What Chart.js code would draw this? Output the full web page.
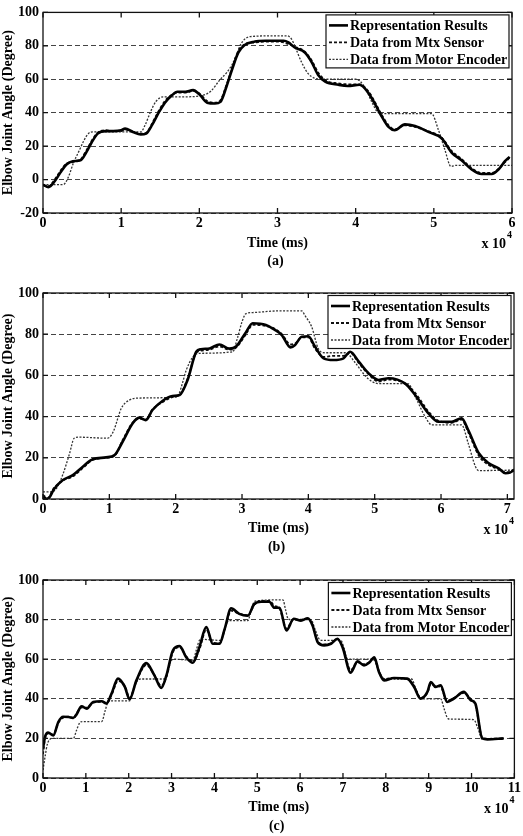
<!DOCTYPE html>
<html>
<head>
<meta charset="utf-8">
<script src="https://cdn.jsdelivr.net/npm/chart.js@4.4.1/dist/chart.umd.min.js"></script>
<style>
    html, body { margin: 0; padding: 0; background: #fff; }
    #wrap { position: relative; width: 523px; height: 836px; }
    #wrap canvas { position: absolute; left: 0; }
</style>
</head>
<body>
<div id="wrap">
    <canvas id="chart-a" width="523" height="272" style="top:0px"></canvas>
    <canvas id="chart-b" width="523" height="284" style="top:272px"></canvas>
    <canvas id="chart-c" width="523" height="280" style="top:556px"></canvas>
</div>
<script>
// series names (legend order)
var seriesNames = ['Representation Results', 'Data from Mtx Sensor', 'Data from Motor Encoder'];

// time in units of 10^4 ms
// (a)
var timeA = [0, 0.07, 0.15, 0.22, 0.3, 0.38, 0.48, 0.55, 0.62, 0.7, 0.8, 0.9, 1.0, 1.05, 1.15, 1.25, 1.32, 1.4, 1.48, 1.56, 1.64, 1.72, 1.82, 1.92, 2.0, 2.1, 2.2, 2.27, 2.35, 2.42, 2.5, 2.58, 2.7, 2.85, 3.0, 3.08, 3.14, 3.22, 3.35, 3.44, 3.52, 3.61, 3.78, 3.9, 4.05, 4.16, 4.25, 4.33, 4.42, 4.5, 4.63, 4.76, 4.93, 5.1, 5.23, 5.35, 5.48, 5.61, 5.74, 5.83, 5.91, 5.97];
var repA = [-3, -4.5, -1, 4, 9, 11, 11.5, 16, 22, 27.5, 29, 29, 29.5, 30.5, 28.5, 27, 27.5, 33, 40, 46, 50, 52.5, 52.5, 53.5, 51, 46, 45.5, 46.5, 56, 66, 76, 80.5, 82.5, 83, 83, 83, 82, 79, 76, 70, 62.5, 58.6, 56.7, 56, 56.7, 52, 45, 38, 31.5, 29.5, 33, 32, 28.5, 24.7, 16, 11.7, 6.2, 3.3, 3.3, 6.2, 11, 13.6];
var mtxA = [-3.5, -4, 0, 5, 9.5, 10.5, 12, 17, 23, 28, 29.5, 29, 29, 30, 28.5, 27.5, 28, 34, 41, 47, 50.5, 52, 52, 53, 51.5, 47, 46, 47.5, 57, 67, 77, 81, 82, 82.5, 82.5, 82, 81, 79.5, 76.5, 71, 64, 59.5, 57.5, 57, 57, 53, 46, 39, 32.5, 30, 32.5, 31.5, 29, 25, 17, 12.5, 7, 4, 4, 6.5, 10.5, 13];
var encTimeA = [0, 0.26, 0.32, 0.39, 0.46, 0.52, 0.58, 0.64, 1.0, 1.25, 1.31, 1.38, 1.45, 1.54, 1.8, 2.05, 2.15, 2.26, 2.35, 2.41, 2.47, 2.52, 2.58, 2.65, 3.0, 3.12, 3.18, 3.22, 3.31, 3.39, 3.48, 3.6, 4.01, 4.12, 4.2, 4.29, 4.35, 4.97, 5.06, 5.14, 5.22, 5.28, 6.0];
var encA = [-3, -3, 1, 10, 17, 23, 27.5, 28.5, 28.5, 28.5, 33, 41, 47, 49.5, 49.5, 50.5, 53, 59.5, 64, 68, 74, 80, 84, 85.5, 86, 86, 84, 80, 70, 63.5, 60.6, 60, 60, 55, 47, 40, 39.5, 39.5, 29.5, 18, 7.8, 8.5, 8.5];

// (b)
var timeB = [0, 0.07, 0.17, 0.3, 0.45, 0.6, 0.75, 0.95, 1.08, 1.2, 1.35, 1.45, 1.55, 1.65, 1.8, 1.95, 2.06, 2.18, 2.31, 2.38, 2.51, 2.66, 2.81, 2.91, 3.06, 3.16, 3.36, 3.5, 3.6, 3.73, 3.8, 3.9, 4.0, 4.1, 4.23, 4.38, 4.53, 4.63, 4.76, 4.91, 5.06, 5.21, 5.46, 5.61, 5.81, 5.96, 6.16, 6.31, 6.41, 6.57, 6.72, 6.87, 6.97, 7.04, 7.1];
var repB = [1, 0, 5, 9.2, 11.6, 15.7, 19.3, 20.2, 21.4, 27.8, 36.7, 39.5, 38.3, 43.2, 47.6, 50, 50.5, 57.8, 71.5, 72.7, 73.1, 75, 73, 74, 81, 85.3, 84.5, 82, 79.6, 73.6, 74.8, 78.8, 79, 74, 68.3, 67.5, 68.3, 71.5, 66.7, 61, 57.8, 58.6, 56, 50.5, 41.6, 37.5, 37.5, 39.2, 33.5, 22.2, 17.3, 14.9, 12.5, 12.8, 14];
var mtxB = [2, 0.5, 5.5, 9, 11, 15, 19, 20, 21, 28.5, 37, 39, 38.5, 43.5, 47, 49.5, 50.5, 58.5, 71, 72, 72.5, 74, 72.5, 73.5, 80, 84.5, 84, 82.5, 80, 75, 75.5, 78.5, 78.5, 73, 69, 69.5, 69.5, 71, 66, 60.5, 57, 58, 56, 51.5, 42.5, 38, 37, 38.5, 32.5, 21, 16.5, 14.5, 13, 13.2, 14.5];
var encTimeB = [0, 0.12, 0.2, 0.3, 0.4, 0.47, 0.55, 0.97, 1.02, 1.07, 1.18, 1.3, 1.45, 2.0, 2.05, 2.1, 2.16, 2.26, 2.36, 2.86, 2.93, 3.0, 3.06, 3.16, 3.56, 3.9, 3.95, 4.05, 4.15, 4.25, 4.56, 4.71, 4.86, 4.96, 5.06, 5.5, 5.61, 5.76, 5.86, 6.31, 6.41, 6.52, 6.57, 7.1];
var encB = [3.5, 3.5, 5, 12, 22, 29.5, 30, 29.5, 30.5, 33.5, 44, 48, 49, 49.5, 51, 56, 62.6, 69, 70.7, 71.5, 78, 86, 90, 90.5, 91.3, 91.3, 89, 83.6, 73, 71, 71, 66, 59.7, 57, 56, 56, 49.7, 40, 36, 36, 27, 15.7, 13.8, 14];

// (c)
var timeC = [0, 0.05, 0.12, 0.24, 0.36, 0.47, 0.6, 0.71, 0.78, 0.9, 1.02, 1.17, 1.37, 1.48, 1.6, 1.75, 1.91, 2.02, 2.18, 2.41, 2.6, 2.76, 2.88, 3.03, 3.19, 3.34, 3.5, 3.65, 3.81, 3.96, 4.12, 4.24, 4.39, 4.58, 4.78, 4.93, 5.09, 5.28, 5.4, 5.52, 5.68, 5.85, 6.02, 6.18, 6.29, 6.41, 6.56, 6.72, 6.87, 6.99, 7.18, 7.34, 7.49, 7.61, 7.73, 7.84, 7.96, 8.19, 8.5, 8.66, 8.81, 8.97, 9.05, 9.16, 9.28, 9.43, 9.59, 9.82, 9.98, 10.09, 10.25, 10.37, 10.75];
var repC = [15, 21, 23, 21.5, 28.4, 30.9, 30.8, 30.4, 32, 36.2, 35, 38.4, 38.8, 37.6, 42.6, 50.2, 46, 39.8, 49.3, 58, 51.8, 45.5, 51.8, 64.4, 66.6, 61, 58.2, 66.1, 76.2, 67.8, 67.8, 75.3, 85.7, 82.9, 82, 87.9, 89, 89, 86, 86, 74.5, 80.4, 79.5, 80.7, 77, 68.6, 67, 67.8, 70.3, 66.1, 53.2, 58.9, 56.9, 58.2, 61, 53.5, 49.3, 50.5, 50.2, 46, 40.1, 43.5, 48.5, 46, 46.8, 38.4, 40.1, 43.5, 39.3, 37.6, 20, 19.5, 20];
var mtxC = [12, 20, 22.5, 22, 28, 30.5, 31, 30, 32.5, 35.5, 35.5, 38, 38.5, 38, 42, 49, 46.5, 40.5, 49, 57, 52, 46.5, 51, 63.5, 66, 61.5, 59, 65, 75, 68.5, 68, 75, 84.5, 83, 82, 87.5, 89.5, 89.5, 87, 85.5, 75.5, 80, 80, 80.5, 77.5, 69, 67.5, 68, 70, 66.5, 54.5, 58.5, 57.5, 58.5, 60.5, 54, 50, 50.5, 50, 46.5, 40.5, 43, 47.5, 46.5, 46, 39, 40.5, 43, 40, 37, 20.5, 19.8, 20];
var encTimeC = [0, 0.05, 0.1, 0.16, 0.2, 0.71, 0.78, 0.86, 0.92, 1.37, 1.45, 1.52, 1.58, 2.02, 2.1, 2.2, 2.28, 2.84, 2.92, 3.0, 3.06, 3.5, 3.57, 3.65, 3.71, 4.16, 4.23, 4.31, 4.37, 4.78, 4.86, 4.93, 5.0, 5.6, 5.66, 5.72, 5.78, 6.25, 6.35, 6.45, 6.52, 6.95, 7.03, 7.1, 7.15, 7.7, 7.82, 7.95, 8.02, 8.6, 8.7, 8.8, 8.87, 9.28, 9.36, 9.45, 9.52, 10.05, 10.15, 10.25, 10.32, 10.75];
var encC = [4, 11, 17, 19.5, 20, 20, 24, 28, 28.5, 28.5, 34, 38.5, 39, 39, 44, 49, 50, 50, 55, 59.5, 60, 59.5, 64, 69.5, 70, 69.5, 74, 79, 79.5, 79.5, 85, 89, 89.5, 90, 85, 80.4, 80, 80, 75, 70, 69.5, 69.5, 65, 60.2, 60, 60, 55, 50.2, 50, 50, 45, 40.4, 40, 40, 35, 30, 29.7, 29.5, 25, 19.6, 19.8, 19.8];

var FONT = "'Liberation Serif', 'Times New Roman', serif";
Chart.defaults.font.family = FONT;
Chart.defaults.font.size = 14;
Chart.defaults.font.weight = 'bold';
Chart.defaults.color = '#000';

function points(t, v) {
    return t.map(function(x, i) { return { x: x, y: v[i] }; });
}

// frame, inward ticks, legend box, x10^4 and panel letter
var figureDecor = {
    id: 'figureDecor',
    afterDatasetsDraw: function(chart) {
        var ctx = chart.ctx, a = chart.chartArea;
        var sx = chart.scales.x, sy = chart.scales.y;
        ctx.save();
        ctx.setLineDash([]);
        ctx.strokeStyle = '#111';
        ctx.lineWidth = 1.3;
        ctx.strokeRect(a.left, a.top, a.right - a.left, a.bottom - a.top);
        ctx.beginPath();
        sx.ticks.forEach(function(t) {
            var px = sx.getPixelForValue(t.value);
            ctx.moveTo(px, a.bottom); ctx.lineTo(px, a.bottom - 5);
            ctx.moveTo(px, a.top); ctx.lineTo(px, a.top + 5);
        });
        sy.ticks.forEach(function(t) {
            var py = sy.getPixelForValue(t.value);
            ctx.moveTo(a.left, py); ctx.lineTo(a.left + 5, py);
            ctx.moveTo(a.right, py); ctx.lineTo(a.right - 5, py);
        });
        ctx.stroke();
        ctx.restore();
    },
    afterDraw: function(chart, args, opts) {
        var ctx = chart.ctx, a = chart.chartArea;
        ctx.save();
        // legend
        var lx = a.right - 186, ly = a.top + 2.5, lw = 183, lh = 53;
        ctx.fillStyle = '#fff';
        ctx.fillRect(lx, ly, lw, lh);
        ctx.setLineDash([]);
        ctx.strokeStyle = '#111';
        ctx.lineWidth = 1.2;
        ctx.strokeRect(lx, ly, lw, lh);
        ctx.font = 'bold 14px ' + FONT;
        ctx.textBaseline = 'middle';
        ctx.textAlign = 'left';
        chart.data.datasets.forEach(function(ds, i) {
            var ry = a.top + 13 + i * 17;
            ctx.beginPath();
            ctx.strokeStyle = ds.borderColor;
            ctx.lineWidth = ds.borderWidth;
            ctx.setLineDash(ds.borderDash || []);
            ctx.moveTo(lx + 3, ry); ctx.lineTo(lx + 22, ry);
            ctx.stroke();
            ctx.fillStyle = '#000';
            ctx.fillText(ds.label, lx + 24, ry + 1);
        });
        // x 10^4
        ctx.textAlign = 'right';
        ctx.fillText('x 10', a.right - 6, a.bottom + 31);
        ctx.font = 'bold 10px ' + FONT;
        ctx.textAlign = 'left';
        ctx.fillText('4', a.right - 5, a.bottom + 22);
        // panel letter
        ctx.font = 'bold 14px ' + FONT;
        ctx.textAlign = 'center';
        ctx.fillText(opts.letter, (a.left + a.right) / 2 - 2, a.bottom + 48);
        ctx.restore();
    }
};

function makeChart(id, p) {
    var ctx = document.getElementById(id).getContext('2d');
    return new Chart(ctx, {
        type: 'line',
        data: {
            datasets: [
                {
                    label: seriesNames[0],
                    data: points(p.time, p.rep),
                    borderColor: '#000',
                    borderWidth: 2.6,
                    pointRadius: 0,
                    cubicInterpolationMode: 'monotone'
                },
                {
                    label: seriesNames[1],
                    data: points(p.time, p.mtx),
                    borderColor: '#111',
                    borderWidth: 1.8,
                    borderDash: [3, 2],
                    pointRadius: 0,
                    cubicInterpolationMode: 'monotone'
                },
                {
                    label: seriesNames[2],
                    data: points(p.encTime, p.enc),
                    borderColor: '#333',
                    borderWidth: 1.3,
                    borderDash: [2, 1.5],
                    pointRadius: 0,
                    cubicInterpolationMode: 'monotone'
                }
            ]
        },
        options: {
            responsive: false,
            animation: false,
            devicePixelRatio: 1,
            layout: { padding: { left: 0, right: p.padRight, top: p.padTop, bottom: 0 } },
            plugins: {
                legend: { display: false },
                tooltip: { enabled: false },
                figureDecor: { letter: p.letter }
            },
            scales: {
                x: {
                    type: 'linear',
                    min: 0,
                    max: p.xMax,
                    ticks: { stepSize: 1, includeBounds: false, padding: 2, maxRotation: 0 },
                    grid: { display: false, drawTicks: false },
                    border: { display: false },
                    title: { display: true, text: 'Time (ms)', padding: { top: 0, bottom: p.titlePad } },
                    afterFit: function(scale) { scale.height = p.xHeight; }
                },
                y: {
                    min: p.yMin,
                    max: 100,
                    ticks: { stepSize: 20, padding: 4 },
                    grid: { color: '#444', lineWidth: 1, drawTicks: false },
                    border: { display: false, dash: [5, 3] },
                    title: { display: true, text: 'Elbow Joint Angle (Degree)', padding: { top: 0, bottom: 0 } },
                    afterFit: function(scale) { scale.width = 43; }
                }
            }
        },
        plugins: [figureDecor]
    });
}

makeChart('chart-a', { time: timeA, rep: repA, mtx: mtxA, encTime: encTimeA, enc: encA,
    xMax: 6, yMin: -20, padTop: 8, padRight: 11, xHeight: 59, titlePad: 20.6, letter: '(a)' });
makeChart('chart-b', { time: timeB, rep: repB, mtx: mtxB, encTime: encTimeB, enc: encB,
    xMax: 7.1, yMin: 0, padTop: 21, padRight: 9, xHeight: 57, titlePad: 19.6, letter: '(b)' });
makeChart('chart-c', { time: timeC, rep: repC, mtx: mtxC, encTime: encTimeC, enc: encC,
    xMax: 11, yMin: 0, padTop: 24, padRight: 8, xHeight: 58, titlePad: 20.6, letter: '(c)' });
</script>
</body>
</html>
